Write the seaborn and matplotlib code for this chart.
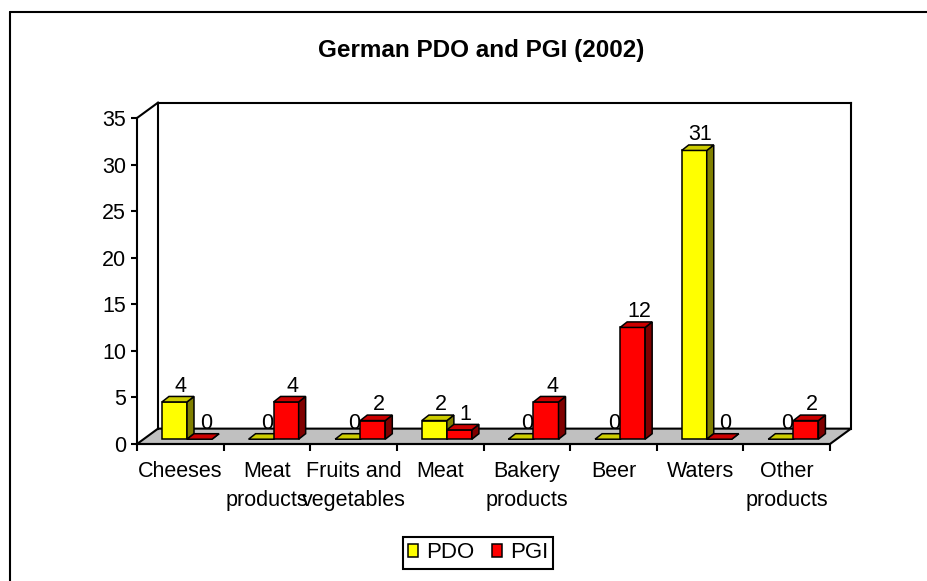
import matplotlib
matplotlib.use("Agg")
import matplotlib.pyplot as plt
from matplotlib.patches import Polygon, Patch
from matplotlib.lines import Line2D
import seaborn as sns
import pandas as pd

# Data
categories = ["Cheeses", "Meat\nproducts", "Fruits and\nvegetables", "Meat",
              "Bakery\nproducts", "Beer", "Waters", "Other\nproducts"]
pdo_values = [4, 0, 0, 2, 0, 0, 31, 0]
pgi_values = [0, 4, 2, 1, 4, 12, 0, 2]
series_names = ["PDO", "PGI"]
y_ticks = [0, 5, 10, 15, 20, 25, 30, 35]

# Colours: front, top, side for each series
front_colors = {"PDO": "#FFFF00", "PGI": "#FF0000"}
top_colors = {"PDO": "#CCCC00", "PGI": "#CC0000"}
side_colors = {"PDO": "#808000", "PGI": "#800000"}

df = pd.DataFrame({
    "category": categories * 2,
    "series": ["PDO"] * len(categories) + ["PGI"] * len(categories),
    "value": pdo_values + pgi_values,
})

sns.set_style("white")
plt.rcParams["font.family"] = ["Liberation Sans", "DejaVu Sans"]
plt.rcParams["text.color"] = "black"
plt.rcParams["xtick.color"] = "black"
plt.rcParams["ytick.color"] = "black"
plt.rcParams["axes.labelcolor"] = "black"

FS = 15.5

W, H = 928, 581
fig = plt.figure(figsize=(W / 100, H / 100), dpi=100)
ax = fig.add_axes([137 / W, (H - 444) / H, 693 / W, 326 / H])
ax.set_xlim(-0.5, len(categories) - 0.5)
ax.set_ylim(0, 35)

# 3D offsets (in data units): wall depth, bar placement in depth, bar depth
WX, WY = 0.2425, 1.65
BX, BY = 0.077, 0.515
DX, DY = 0.081, 0.59

# floor and walls
x_left, x_right = -0.5, len(categories) - 0.5
floor = Polygon([(x_left, 0), (x_right, 0), (x_right + WX, WY), (x_left + WX, WY)],
                closed=True, facecolor="#C0C0C0", edgecolor="black", lw=1.5,
                clip_on=False, zorder=1)
ax.add_patch(floor)
wall_kw = dict(color="black", lw=1.5, clip_on=False, zorder=1, solid_capstyle="projecting")
ax.plot([x_left, x_left + WX], [35, 35 + WY], **wall_kw)
ax.plot([x_left + WX, x_right + WX], [35 + WY, 35 + WY], **wall_kw)
ax.plot([x_left + WX, x_left + WX], [WY, 35 + WY], **wall_kw)
ax.plot([x_right + WX, x_right + WX], [WY, 35 + WY], **wall_kw)

# front faces of the bars through seaborn
sns.barplot(data=df, x="category", y="value", hue="series", order=categories,
            hue_order=series_names, palette=front_colors, saturation=1,
            width=0.578, edgecolor="black", linewidth=1.1, legend=False, ax=ax)

bars = list(ax.patches)[1:]  # first patch is the floor
for i, bar in enumerate(bars):
    name = series_names[i // len(categories)]
    z = 3 if name == "PDO" else 4
    x0 = bar.get_x() + BX
    w = bar.get_width()
    h = bar.get_height()
    y0 = BY
    bar.set_x(x0)
    bar.set_y(y0)
    bar.set_zorder(z)
    bar.set_joinstyle("miter")
    top = Polygon([(x0, y0 + h), (x0 + w, y0 + h), (x0 + w + DX, y0 + h + DY), (x0 + DX, y0 + h + DY)],
                  closed=True, facecolor=top_colors[name], edgecolor="black", lw=1.1,
                  joinstyle="miter", zorder=z)
    side = Polygon([(x0 + w, y0), (x0 + w + DX, y0 + DY), (x0 + w + DX, y0 + h + DY), (x0 + w, y0 + h)],
                   closed=True, facecolor=side_colors[name], edgecolor="black", lw=1.1,
                   joinstyle="miter", zorder=z)
    ax.add_patch(side)
    ax.add_patch(top)
    ax.text(x0 + w / 2 + DX * 0.9, y0 + h + DY + 0.5, f"{h:g}", ha="center", va="baseline",
            fontsize=FS, zorder=6)

# axes styling
for s in ["top", "right"]:
    ax.spines[s].set_visible(False)
for s in ["left", "bottom"]:
    ax.spines[s].set_linewidth(1.5)
    ax.spines[s].set_color("black")
    ax.spines[s].set_zorder(2)
ax.set_facecolor("none")
ax.set_yticks(y_ticks)
ax.set_yticklabels([str(t) for t in y_ticks])
ax.tick_params(axis="y", direction="out", length=4.5, width=1.5, pad=3.5, labelsize=FS, left=True)
ax.set_xticks(range(len(categories)))
ax.set_xticklabels(categories)
ax.tick_params(axis="x", which="major", length=0, pad=12, labelsize=FS)
for lbl in ax.get_xticklabels():
    lbl.set_linespacing(1.5)
ax.set_xticks([x - 0.5 for x in range(len(categories) + 1)], minor=True)
ax.tick_params(axis="x", which="minor", direction="out", length=5, width=1.5, bottom=True)
ax.set_xlabel("")
ax.set_ylabel("")

# title
fig.text(481 / W, 1 - 51 / H, "German PDO and PGI (2002)", ha="center", va="center",
         fontsize=17.5, fontweight="bold")

# legend
handles = [Patch(facecolor=front_colors[n], edgecolor="black", linewidth=1.1, label=n)
           for n in series_names]
leg = fig.legend(handles=handles, loc="center", bbox_to_anchor=(478 / W, 1 - 553 / H),
                 ncol=2, fontsize=16, handlelength=0.45, handleheight=0.5, handletextpad=0.35,
                 columnspacing=0.8, borderpad=0.25, borderaxespad=0, fancybox=False, framealpha=1)
leg.get_frame().set_edgecolor("black")
leg.get_frame().set_linewidth(1.5)

# outer chart border (left and top only are in view)
fig.add_artist(Line2D([10 / W, 10 / W], [0, 1 - 12 / H], color="black", lw=1.5))
fig.add_artist(Line2D([10 / W, 1], [1 - 12 / H, 1 - 12 / H], color="black", lw=1.5))

fig.savefig("out.png", dpi=100)
